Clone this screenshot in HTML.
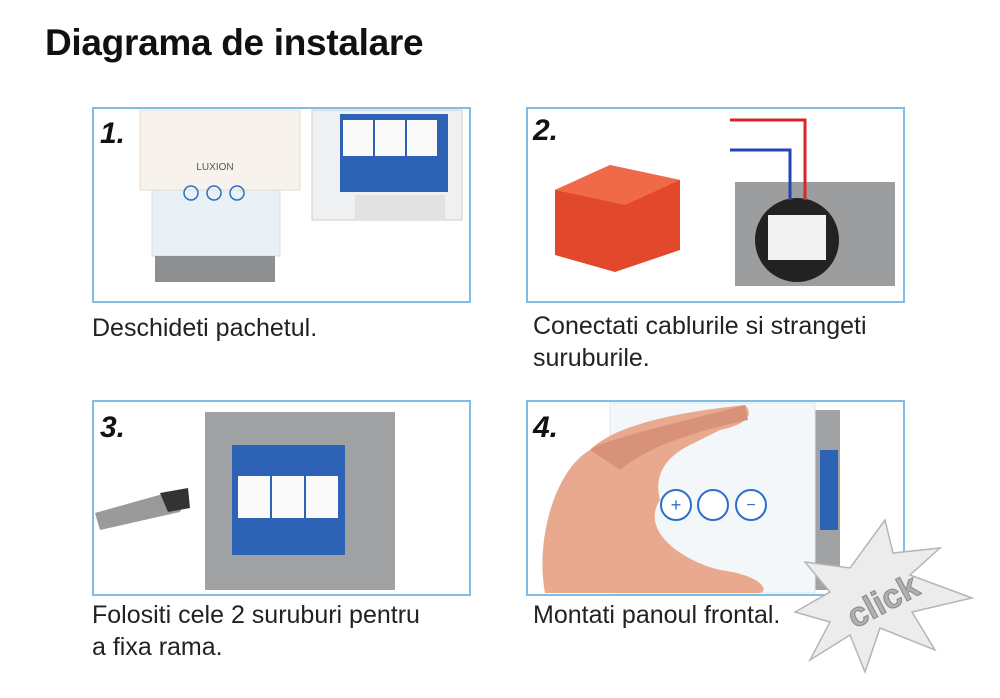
<!DOCTYPE html>
<html><head><meta charset="utf-8"><style>
body{margin:0;width:1000px;height:698px;background:#fff;position:relative;overflow:hidden;font-family:"Liberation Sans",sans-serif}
.t{position:absolute;left:45px;top:22px;font-size:37px;font-weight:bold;color:#111;letter-spacing:-0.3px}
.cap{position:absolute;font-size:25px;color:#222;line-height:32px}
svg{position:absolute;left:0;top:0}
.n{font-family:"Liberation Sans",sans-serif;font-weight:bold;font-style:italic;font-size:30px;fill:#111}
</style></head><body>
<div class="t">Diagrama de instalare</div>
<svg width="1000" height="698">
<rect x="93" y="108" width="377" height="194" fill="#fff" stroke="#7fbde5" stroke-width="2"/>
<rect x="152" y="188" width="128" height="68" fill="#e9f1f6" stroke="#cfdbe2"/>
<rect x="140" y="110" width="160" height="80" fill="#f7f3ec" stroke="#e4dccf"/>
<text x="215" y="170" font-size="10" fill="#555" text-anchor="middle">LUXION</text>
<circle cx="191" cy="193" r="7" fill="none" stroke="#2a6fc9" stroke-width="1.5"/>
<circle cx="214" cy="193" r="7" fill="none" stroke="#2a6fc9" stroke-width="1.5"/>
<circle cx="237" cy="193" r="7" fill="none" stroke="#2a6fc9" stroke-width="1.5"/>
<rect x="155" y="256" width="120" height="26" fill="#8d8f91"/>
<rect x="312" y="110" width="150" height="110" fill="#eef0f1" stroke="#ccc"/>
<rect x="340" y="114" width="108" height="78" fill="#2e62b4"/>
<rect x="343" y="120" width="30" height="36" fill="#fafafa"/><rect x="375" y="120" width="30" height="36" fill="#fafafa"/><rect x="407" y="120" width="30" height="36" fill="#fafafa"/>
<rect x="355" y="195" width="90" height="25" fill="#e2e2e2"/>
<text x="100" y="143" class="n">1.</text>
<rect x="527" y="108" width="377" height="194" fill="#fff" stroke="#7fbde5" stroke-width="2"/>
<polygon points="555,190 610,165 680,180 680,250 615,272 555,255" fill="#e2482c"/>
<polygon points="555,190 610,165 680,180 625,205" fill="#f06a4a"/>
<rect x="735" y="182" width="160" height="104" fill="#9b9d9f"/>
<circle cx="797" cy="240" r="42" fill="#222"/>
<rect x="768" y="215" width="58" height="45" fill="#f2f2f2"/>
<polyline points="730,120 805,120 805,200" fill="none" stroke="#d9262a" stroke-width="3"/>
<polyline points="730,150 790,150 790,200" fill="none" stroke="#2343b0" stroke-width="3"/>
<text x="533" y="140" class="n">2.</text>
<rect x="93" y="401" width="377" height="194" fill="#fff" stroke="#7fbde5" stroke-width="2"/>
<polygon points="95,513 170,492 185,500 180,512 100,530" fill="#9a9a9a"/>
<polygon points="160,493 188,488 190,508 168,512" fill="#333"/>
<rect x="205" y="412" width="190" height="178" fill="#9fa1a3"/>
<rect x="232" y="445" width="113" height="110" fill="#2e62b4"/>
<rect x="238" y="476" width="32" height="42" fill="#fafafa"/><rect x="272" y="476" width="32" height="42" fill="#fafafa"/><rect x="306" y="476" width="32" height="42" fill="#fafafa"/>
<text x="100" y="437" class="n">3.</text>
<rect x="527" y="401" width="377" height="194" fill="#fff" stroke="#7fbde5" stroke-width="2"/>
<rect x="815" y="410" width="25" height="180" fill="#a0a2a4"/>
<rect x="820" y="450" width="18" height="80" fill="#2e62b4"/>
<rect x="610" y="403" width="205" height="190" fill="#f3f7fa" stroke="#dde6ec"/>
<path d="M545,593 C535,540 555,470 590,450 C620,420 700,410 745,405 C755,415 745,425 720,430 L690,445 C660,460 655,480 660,500 C640,530 680,560 720,570 C760,575 770,590 760,593 Z" fill="#e8a98f"/>
<path d="M590,450 C600,440 690,420 745,405 L748,420 C700,430 650,445 620,470 Z" fill="#d8927a"/>
<circle cx="676" cy="505" r="15" fill="#fff" stroke="#2a6fc9" stroke-width="2"/>
<circle cx="713" cy="505" r="15" fill="#fff" stroke="#2a6fc9" stroke-width="2"/>
<circle cx="751" cy="505" r="15" fill="#fff" stroke="#2a6fc9" stroke-width="2"/>
<text x="676" y="511" font-size="18" fill="#2a6fc9" text-anchor="middle">+</text>
<text x="751" y="510" font-size="16" fill="#2a6fc9" text-anchor="middle">−</text>
<text x="533" y="437" class="n">4.</text>
<polygon points="885,520 893,553 940,548 910,575 972,598 912,612 935,650 880,628 865,672 850,635 810,660 830,622 795,612 830,592 805,562 850,568" fill="#ececec" stroke="#b5b5b5" stroke-width="1.5"/>
<text x="885" y="612" font-size="34" font-weight="bold" fill="#b0b0b0" stroke="#888" stroke-width="1" text-anchor="middle" transform="rotate(-28 885 605)">click</text>
</svg>
<div class="cap" style="left:92px;top:312px">Deschideti pachetul.</div>
<div class="cap" style="left:533px;top:310px">Conectati cablurile si strangeti<br>suruburile.</div>
<div class="cap" style="left:92px;top:599px">Folositi cele 2 suruburi pentru<br>a fixa rama.</div>
<div class="cap" style="left:533px;top:599px">Montati panoul frontal.</div>
</body></html>
